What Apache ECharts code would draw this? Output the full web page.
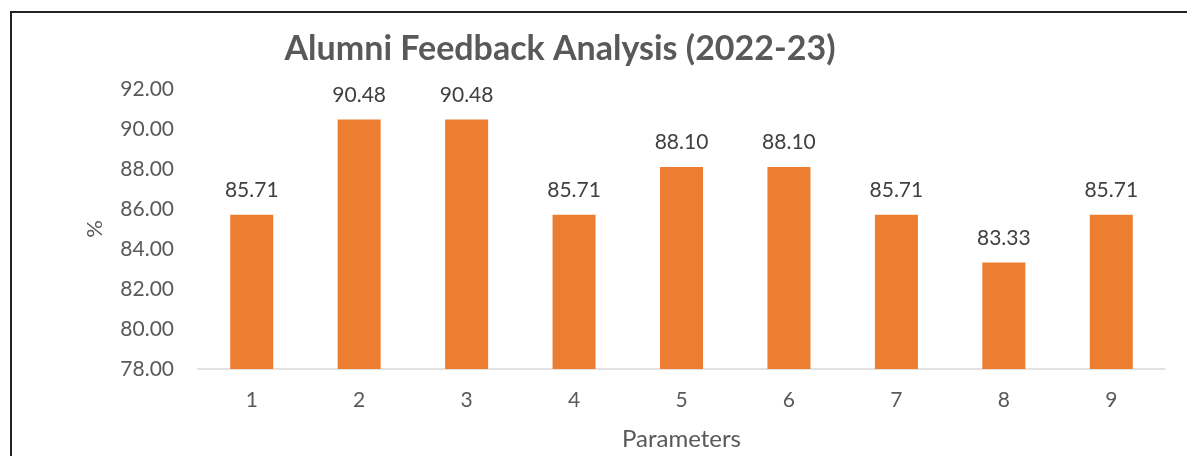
<!DOCTYPE html>
<html>
<head>
<meta charset="utf-8">
<script src="https://cdn.jsdelivr.net/npm/echarts@6/dist/echarts.min.js"></script>
<style>
  html, body { margin: 0; padding: 0; background: #fff; }
  #frame {
    position: absolute; left: 10px; top: 11px;
    width: 1200px; height: 460px;
    border-left: 2px solid #222; border-top: 2px solid #222;
  }
  #chart { position: absolute; left: 0; top: 0; width: 1187px; height: 456px; }
</style>
</head>
<body>
<div id="frame"></div>
<div id="chart"></div>
<script>
// 数据
const parameters = ['1', '2', '3', '4', '5', '6', '7', '8', '9']
const scores = [85.71, 90.48, 90.48, 85.71, 88.10, 88.10, 85.71, 83.33, 85.71]

const chart = echarts.init(document.getElementById('chart'))
const font = 'Lato, "Open Sans", sans-serif'

const option = {
  animation: false,
  title: {
    text: 'Alumni Feedback Analysis (2022-23)',
    left: 555,
    top: 27,
    textAlign: 'center',
    textStyle: { fontFamily: font, fontSize: 34, fontWeight: 'bold', color: '#595959' }
  },
  grid: { left: 198, right: 22, top: 89, bottom: 87 },
  xAxis: {
    type: 'category',
    data: parameters,
    name: 'Parameters',
    nameLocation: 'middle',
    nameGap: 58,
    nameTextStyle: { fontFamily: font, fontSize: 24, color: '#595959' },
    axisLine: { lineStyle: { color: '#d9d9d9', width: 1.5 } },
    axisTick: { show: false },
    axisLabel: { fontFamily: font, fontSize: 21, color: '#595959', margin: 21 }
  },
  yAxis: {
    type: 'value',
    min: 78,
    max: 92,
    interval: 2,
    name: '%',
    nameLocation: 'middle',
    nameGap: 92,
    nameTextStyle: { fontFamily: font, fontSize: 22, color: '#595959' },
    axisLine: { show: false },
    axisTick: { show: false },
    splitLine: { show: false },
    axisLabel: {
      fontFamily: font, fontSize: 21, color: '#595959', margin: 24,
      formatter: v => v.toFixed(2)
    }
  },
  series: [
    {
      type: 'bar',
      data: scores,
      barWidth: 43,
      itemStyle: { color: '#ed7d31' },
      label: {
        show: true,
        position: 'top',
        distance: 14,
        fontFamily: font,
        fontSize: 21,
        color: '#404040',
        formatter: p => p.value.toFixed(2)
      }
    }
  ]
}

chart.setOption(option)
</script>
</body>
</html>
